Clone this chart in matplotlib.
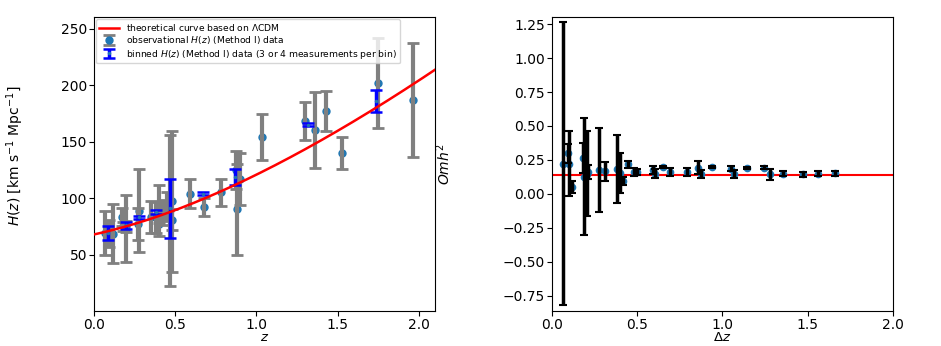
import numpy as np
import matplotlib
matplotlib.use("Agg")
import matplotlib.pyplot as plt

# ---- observational H(z) data (Method I) ----
z_obs = [0.07, 0.09, 0.12, 0.17, 0.179, 0.199, 0.2, 0.27, 0.28, 0.352, 0.3802,
         0.4, 0.4004, 0.4247, 0.4497, 0.47, 0.4783, 0.48, 0.593, 0.68, 0.781,
         0.875, 0.88, 0.9, 1.037, 1.3, 1.363, 1.43, 1.53, 1.75, 1.965]
H_obs = [69, 69, 68.6, 83, 75, 75, 72.9, 77, 88.8, 83, 83,
         95, 77, 87.1, 92.8, 89, 80.9, 97, 104, 92, 105,
         125, 90, 117, 154, 168, 160, 177, 140, 202, 186.5]
H_err = [19.6, 12, 26.2, 8, 4, 5, 29.6, 14, 36.6, 14, 13.5,
         17, 10.2, 11.2, 12.9, 67, 9, 62, 13, 8, 12,
         17, 40, 23, 20, 17, 33.6, 18, 14, 40, 50.4]

# ---- binned H(z) data ----
z_bin = [0.087, 0.195, 0.274, 0.38, 0.47, 0.67, 0.87, 1.317, 1.734]
H_bin = [69.1, 76, 83, 87.7, 91, 104, 118.4, 165, 186]
H_bin_err = [6.6, 3, 1.5, 1.5, 26, 1.5, 7, 1.5, 10]

# ---- LCDM model parameters ----
H0 = 67.8
Om = 0.31

# ---- Omh^2 two-point diagnostic ----
dz = [0.066, 0.092, 0.101, 0.119, 0.184, 0.19, 0.204, 0.213, 0.277, 0.311,
      0.383, 0.399, 0.415, 0.448, 0.483, 0.497, 0.591, 0.604, 0.653, 0.692,
      0.79, 0.858, 0.874, 0.937, 1.05, 1.069, 1.145, 1.243, 1.279, 1.353,
      1.474, 1.562, 1.66]
omh2 = [0.223, 0.30, 0.223, 0.053, 0.264, 0.126, 0.15, 0.162, 0.174, 0.167,
        0.184, 0.155, 0.097, 0.218, 0.162, 0.162, 0.174, 0.15, 0.198, 0.162,
        0.162, 0.194, 0.145, 0.198, 0.187, 0.145, 0.191, 0.194, 0.145, 0.15,
        0.145, 0.15, 0.152]
omh2_err = [1.04, 0.07, 0.24, 0.045, 0.11, 0.43, 0.31, 0.05, 0.31, 0.07,
            0.25, 0.145, 0.03, 0.025, 0.03, 0.025, 0.03, 0.03, 0.01, 0.03,
            0.03, 0.05, 0.03, 0.01, 0.02, 0.03, 0.008, 0.008, 0.04, 0.02,
            0.02, 0.02, 0.02]
omh2_ref = 0.143

fig = plt.figure(figsize=(9.41, 3.46), dpi=100)
ax1 = fig.add_axes([0.0999, 0.1010, 0.3624, 0.849])
ax2 = fig.add_axes([0.5866, 0.1010, 0.3624, 0.849])

zz = np.linspace(0, 2.1, 300)
ax1.plot(zz, H0 * np.sqrt(Om * (1 + zz) ** 3 + 1 - Om), color="red", lw=1.8,
         label=r"theoretical curve based on $\Lambda$CDM", zorder=4)
ax1.errorbar(z_obs, H_obs, yerr=H_err, fmt="o", color="tab:blue", ms=5,
             ecolor="gray", elinewidth=3, capsize=4.2, capthick=2, barsabove=True,
             label=r"observational $H(z)$ (Method I) data", zorder=2)
ax1.errorbar(z_bin, H_bin, yerr=H_bin_err, fmt=".", color="tab:blue", ms=3,
             ecolor="blue", elinewidth=2.5, capsize=4, capthick=1.8,
             label=r"binned $H(z)$ (Method I) data (3 or 4 measurements per bin)",
             zorder=3)
ax1.set_xlim(0, 2.1)
ax1.set_ylim(0, 260)
ax1.set_yticks([50, 100, 150, 200, 250])
ax1.set_xticks([0, 0.5, 1.0, 1.5, 2.0])
ax1.set_xlabel(r"$z$", fontsize=9.5, labelpad=-0.5)
ax1.set_ylabel(r"$H(z)$ [km s$^{-1}$ Mpc$^{-1}$]", fontsize=10)
ax1.yaxis.set_label_coords(-0.2, 0.53)
ax1.tick_params(labelsize=10, pad=1.5, length=3.5)
leg = ax1.legend(loc="upper left", fontsize=6.6, borderaxespad=0.2,
                 handlelength=2.2, labelspacing=0.15, borderpad=0.3,
                 framealpha=0.8)

ax2.axhline(omh2_ref, color="red", lw=1.5, zorder=1)
ax2.errorbar(dz, omh2, yerr=omh2_err, fmt="o", color="tab:blue", ms=4.5,
             ecolor="black", elinewidth=2.5, capsize=3, capthick=1.5,
             barsabove=True, zorder=2)
ax2.set_xlim(0, 2.0)
ax2.set_ylim(-0.862, 1.30)
ax2.set_xticks([0, 0.5, 1.0, 1.5, 2.0])
ax2.set_yticks([-0.75, -0.5, -0.25, 0, 0.25, 0.5, 0.75, 1.0, 1.25])
ax2.set_xlabel(r"$\Delta z$", fontsize=9.5, labelpad=-0.5)
ax2.set_ylabel(r"$Omh^2$", fontsize=10)
ax2.yaxis.set_label_coords(-0.29, 0.5)
ax2.tick_params(labelsize=10, pad=1.5, length=3.5)

fig.savefig("out.png", dpi=100)
